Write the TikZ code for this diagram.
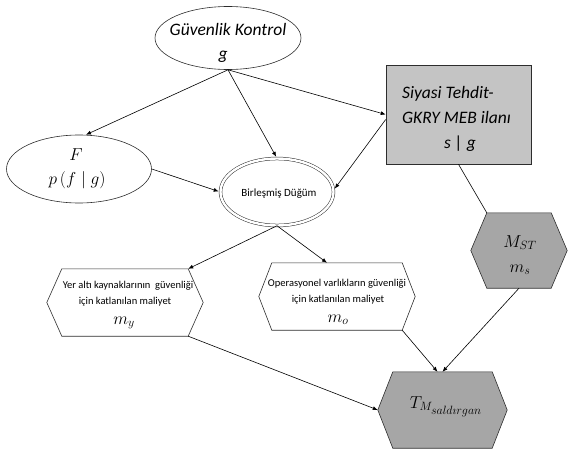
\documentclass[tikz,border=0pt]{standalone}
\usepackage{fontspec}
\setmainfont{Carlito}
\usetikzlibrary{arrows.meta,shapes.geometric}
\definecolor{boxfill}{RGB}{196,196,196}
\definecolor{hexfill}{RGB}{166,166,166}
\definecolor{edgecol}{RGB}{45,45,45}
\tikzset{
  hexpath/.style 2 args={insert path={([xshift=#2]#1.north west) -- ([xshift=-#2]#1.north east) -- (#1.east) -- ([xshift=-#2]#1.south east) -- ([xshift=#2]#1.south west) -- (#1.west) -- cycle}},
}
\begin{document}
\begin{tikzpicture}[x=1pt,y=-1pt,
  arr/.style={-{Latex[length=5pt,width=4pt]}, draw=black, line width=0.6pt},
  plainline/.style={draw=black, line width=0.6pt},
  ell/.style={ellipse, draw=edgecol, line width=0.6pt, inner sep=0pt},
  hexnode/.style={rectangle, inner sep=0pt},
  hexdraw/.style={draw=edgecol, line width=0.6pt, line join=miter},
  lbl/.style={anchor=base, inner sep=0pt},
  fbig/.style={font=\fontsize{17.5}{20}\selectfont\itshape},
  fsmall/.style={font=\fontsize{10.5}{12}\selectfont},
  fmath/.style={font=\fontsize{17}{20}\selectfont},
  tob/.style={shorten >=1.7pt}
]
\useasboundingbox (0,0) rectangle (568,450);

% Guvenlik Kontrol
\node[ell, minimum width=146pt, minimum height=63pt] (g) at (228,38) {};
\node[lbl,fbig] (gt1) at (228,35) {Güvenlik Kontrol};
\node[lbl,fbig] (gt2) at (223,59) {g};

% F
\node[ell, minimum width=145pt, minimum height=68pt] (F) at (79,169) {};
\node[lbl,fmath] (Ft1) at (76,160) {$F$};
\node[lbl,fmath] (Ft2) at (77,184) {$p\,(f\mid g)$};

% Birlesmis Dugum
\node[ell, double, double distance=2.4pt, line width=0.5pt, minimum width=113pt, minimum height=67pt] (B) at (277,192) {};
\node[lbl,font=\fontsize{11}{13}\selectfont] (Bt) at (279,196) {Birleşmiş Düğüm};

% Siyasi Tehdit box
\node[rectangle, draw=edgecol, line width=0.6pt, fill=boxfill, minimum width=145pt, minimum height=99pt, inner sep=0pt] (S) at (458.5,114.5) {};
\node[lbl,fbig,anchor=base west] (St1) at (402,98) {Siyasi Tehdit-};
\node[lbl,fbig,anchor=base west] (St2) at (402,123) {GKRY MEB ilanı};
\node[lbl,fbig] (St3) at (460,148) {s | g};

% Hexagon m_y
\node[hexnode, minimum width=156pt, minimum height=67pt] (Hy) at (125,302.5) {};
\path[hexdraw, fill=white, hexpath={Hy}{15pt}];
\node[lbl,fsmall] (Hyt1) at (128,288) {Yer altı kaynaklarının~ güvenliği};
\node[lbl,fsmall] (Hyt2) at (125,304) {için katlanılan maliyet};
\node[lbl,fmath] (Hym) at (124,324) {$m_y$};

% Hexagon m_o
\node[hexnode, minimum width=156pt, minimum height=67pt] (Ho) at (337,296.5) {};
\path[hexdraw, fill=white, hexpath={Ho}{13pt}];
\node[lbl,fsmall] (Hot1) at (337,286) {Operasyonel varlıkların güvenliği};
\node[lbl,fsmall] (Hot2) at (338,302) {için katlanılan maliyet};
\node[lbl,fmath] (Hom) at (338,322) {$m_o$};

% Hexagon M_ST
\node[hexnode, minimum width=96pt, minimum height=75pt] (Hm) at (519,250.5) {};
\path[hexdraw, fill=hexfill, hexpath={Hm}{16pt}];
\node[lbl,fmath] (Hmt1) at (520,247) {$M_{ST}$};
\node[lbl,fmath] (Hmt2) at (520,272) {$m_s$};

% Hexagon T
\node[hexnode, minimum width=129pt, minimum height=76pt] (Ht) at (442.5,410) {};
\path[hexdraw, fill=hexfill, hexpath={Ht}{15pt}];
\node[lbl,font=\fontsize{18}{21}\selectfont] (Htt) at (446,408) {$T_{M_{\scriptstyle sald\imath rgan}}$};

% connectors
\draw[arr] (g.south) -- ([xshift=7pt]F.north);
\draw[arr,tob] (g.south) -- (B.north);
\draw[arr] (g.south) -- (S.west);
\draw[arr,tob] ([yshift=-5pt]S.west) -- ([yshift=2pt]B.east);
\draw[arr,tob] (F.east) -- (B.west);
\draw[arr] (B.south) -- ([xshift=-15pt]Hy.north east);
\draw[arr] (B.south) -- ([xshift=-10pt]Ho.north);
\draw[arr] ([xshift=-15pt]Hy.south east) -- (Ht.west);
\draw[arr] ([xshift=-13pt]Ho.south east) -- ([xshift=-5pt]Ht.north);
\draw[arr] (Hm.south) -- (Ht.north);
\draw[plainline] (S.south) -- ([xshift=16pt]Hm.north west);
\end{tikzpicture}
\end{document}
